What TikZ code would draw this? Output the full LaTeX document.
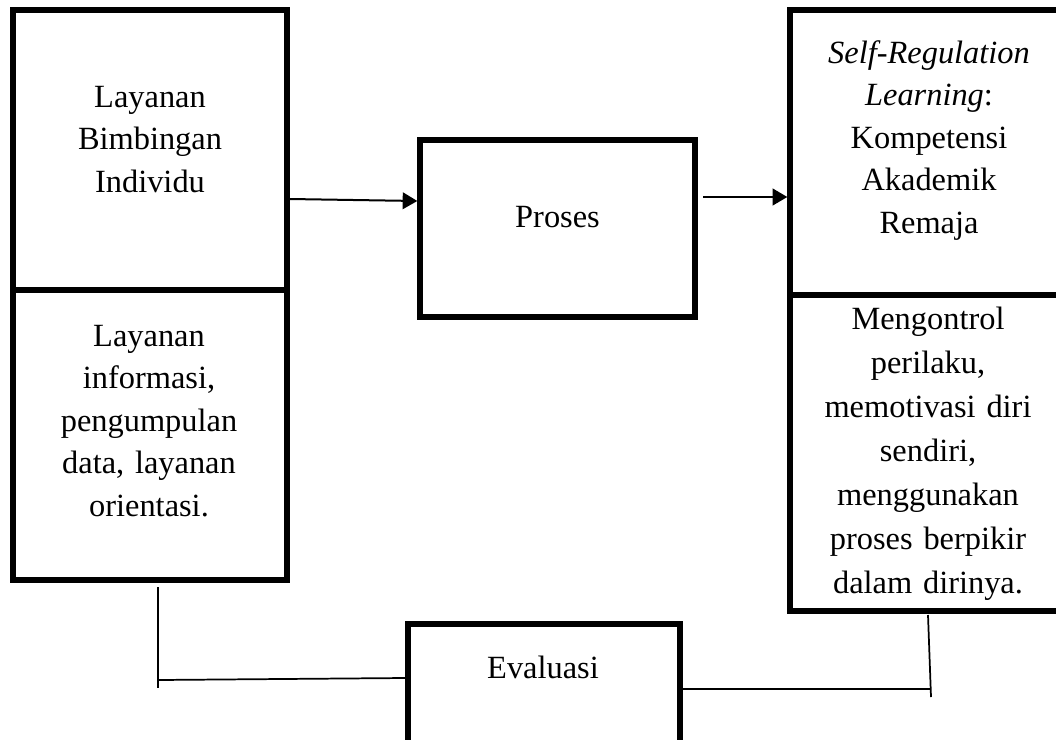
\documentclass[tikz,border=0pt]{standalone}
\usepackage{fontspec}
\setmainfont{Liberation Serif}
\usetikzlibrary{arrows.meta,calc}
\begin{document}
\begin{tikzpicture}[x=0.75pt,y=-0.75pt,
  box/.style={draw, rectangle, line width=4pt, inner sep=0pt},
  txt/.style={font=\fontsize{24.3}{31.9}\selectfont, align=center,
    text width=270*0.75pt, anchor=base, inner sep=0pt},
  arr/.style={-{Triangle[length=11pt,width=12.5pt]}, line width=1.5pt},
  conn/.style={line width=1.3pt}]
\clip (0,0) rectangle (1056,739);
\fill[white] (0,0) rectangle (1056,739);
% boxes
\node[box, minimum width=274*0.75pt, minimum height=280*0.75pt] (lt) at (150,150) {};
\node[box, minimum width=274*0.75pt, minimum height=290*0.75pt] (lb) at (150,435) {};
\node[box, minimum width=275*0.75pt, minimum height=177*0.75pt] (pr) at (557.5,228.5) {};
\node[box, minimum width=276*0.75pt, minimum height=285*0.75pt] (rt) at (928,152.5) {};
\node[box, minimum width=276*0.75pt, minimum height=316*0.75pt] (rb) at (928,453) {};
\node[box, minimum width=272*0.75pt, minimum height=136*0.75pt] (ev) at (544,692) {};
% texts
\node[txt] (ltt) at (150,107) {Layanan\\Bimbingan\\Individu};
\node[txt] (lbt) at (149,346) {Layanan\\informasi,\\pengumpulan\\data, layanan\\orientasi.};
\node[txt] (prt) at (557.5,227) {Proses};
\node[txt] (rtt) at (929,63) {\textit{Self-Regulation}\\\textit{Learning}:\\Kompetensi\\Akademik\\Remaja};
\node[txt, font=\fontsize{24.3}{33}\selectfont] (rbt) at (928,329) {Mengontrol\\perilaku,\\memotivasi diri\\sendiri,\\menggunakan\\proses berpikir\\dalam dirinya.};
\node[txt] (evt) at (543,678) {Evaluasi};
% arrows
\draw[arr] ($(lt.east)+(0,49)$) -- ($(pr.west)+(0,-27.5)$);
\draw[arr] ($(pr.east)+(5.5,-31.5)$) -- ($(rt.west)+(0,44.5)$);
% bottom connectors
\coordinate (l1) at (158,587);
\coordinate (l2) at (158,688);
\coordinate (l3) at (158,680);
\draw[conn] (l1) -- (l2);
\draw[conn] (l3) -- ($(ev.west)+(0,-14)$);
\coordinate (r1) at (928,615);
\coordinate (r2) at (931,697);
\coordinate (r3) at (931,689);
\draw[conn] (r1) -- (r2);
\draw[conn] ($(ev.east)+(0,-3)$) -- (r3);
\end{tikzpicture}
\end{document}
